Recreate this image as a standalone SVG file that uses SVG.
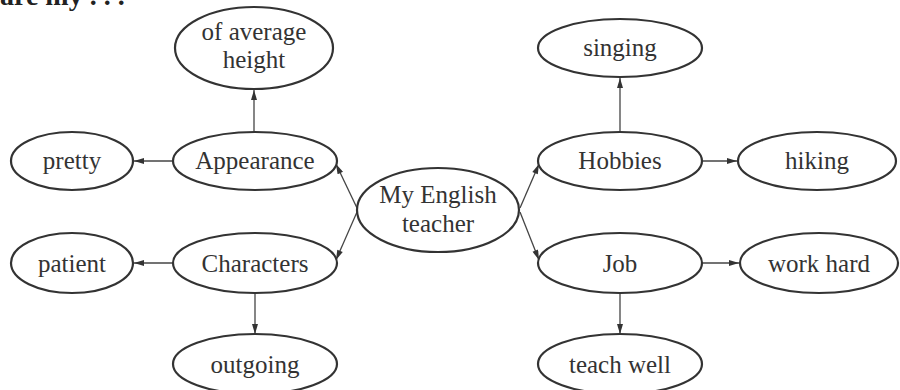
<svg xmlns="http://www.w3.org/2000/svg" width="900" height="390" viewBox="0 0 900 390">
<defs>
<style>
.n ellipse{fill:#fff;stroke:#333;stroke-width:2.2}
.n text{font-family:"Liberation Serif","Times New Roman",serif;font-size:25px;fill:#333;text-anchor:middle}
.c line{stroke:#444;stroke-width:1.3;marker-end:url(#ah)}
.title{font-family:"Liberation Serif","Times New Roman",serif;font-size:28px;font-weight:bold;fill:#222}
</style>
<marker id="ah" viewBox="0 0 10 6" refX="10" refY="3" markerWidth="11" markerHeight="6" markerUnits="userSpaceOnUse" orient="auto">
<path d="M0,0 L10,3 L0,6 Z" fill="#333"/>
</marker>
</defs>
<rect width="900" height="390" fill="#fff"/>
<text class="title" x="0" y="5">are my . . .</text>
<g class="c">
<line x1="254" y1="132" x2="254" y2="90"/>
<line x1="173" y1="161" x2="134" y2="161"/>
<line x1="357" y1="208" x2="336" y2="164"/>
<line x1="357" y1="212" x2="336" y2="260"/>
<line x1="520" y1="208" x2="539" y2="164"/>
<line x1="520" y1="212" x2="539" y2="260"/>
<line x1="620" y1="132" x2="620" y2="78"/>
<line x1="703" y1="161" x2="737" y2="161"/>
<line x1="173" y1="263" x2="134" y2="263"/>
<line x1="255" y1="293" x2="255" y2="334"/>
<line x1="703" y1="263" x2="739" y2="263"/>
<line x1="620" y1="293" x2="620" y2="334"/>
</g>
<g id="center" class="n"><ellipse cx="438" cy="210" rx="81" ry="42"/><text x="438" y="203">My English</text><text x="438" y="232">teacher</text></g>
<g id="appearance" class="n"><ellipse cx="255" cy="161" rx="82" ry="29"/><text x="255" y="169">Appearance</text></g>
<g id="height" class="n"><ellipse cx="254" cy="48" rx="79" ry="41"/><text x="254" y="40">of average</text><text x="254" y="68">height</text></g>
<g id="pretty" class="n"><ellipse cx="72" cy="161" rx="61" ry="29"/><text x="72" y="169">pretty</text></g>
<g id="characters" class="n"><ellipse cx="255" cy="263" rx="82" ry="30"/><text x="255" y="272">Characters</text></g>
<g id="patient" class="n"><ellipse cx="72" cy="263" rx="61" ry="30"/><text x="72" y="272">patient</text></g>
<g id="outgoing" class="n"><ellipse cx="255" cy="364" rx="82" ry="30"/><text x="255" y="373">outgoing</text></g>
<g id="hobbies" class="n"><ellipse cx="620" cy="161" rx="82" ry="29"/><text x="620" y="169">Hobbies</text></g>
<g id="singing" class="n"><ellipse cx="620" cy="48" rx="82" ry="29"/><text x="620" y="56">singing</text></g>
<g id="hiking" class="n"><ellipse cx="817" cy="161" rx="79" ry="29"/><text x="817" y="169">hiking</text></g>
<g id="job" class="n"><ellipse cx="620" cy="263" rx="82" ry="30"/><text x="620" y="272">Job</text></g>
<g id="workhard" class="n"><ellipse cx="819" cy="263" rx="79" ry="30"/><text x="819" y="272">work hard</text></g>
<g id="teachwell" class="n"><ellipse cx="620" cy="364" rx="82" ry="30"/><text x="620" y="373">teach well</text></g>
</svg>
